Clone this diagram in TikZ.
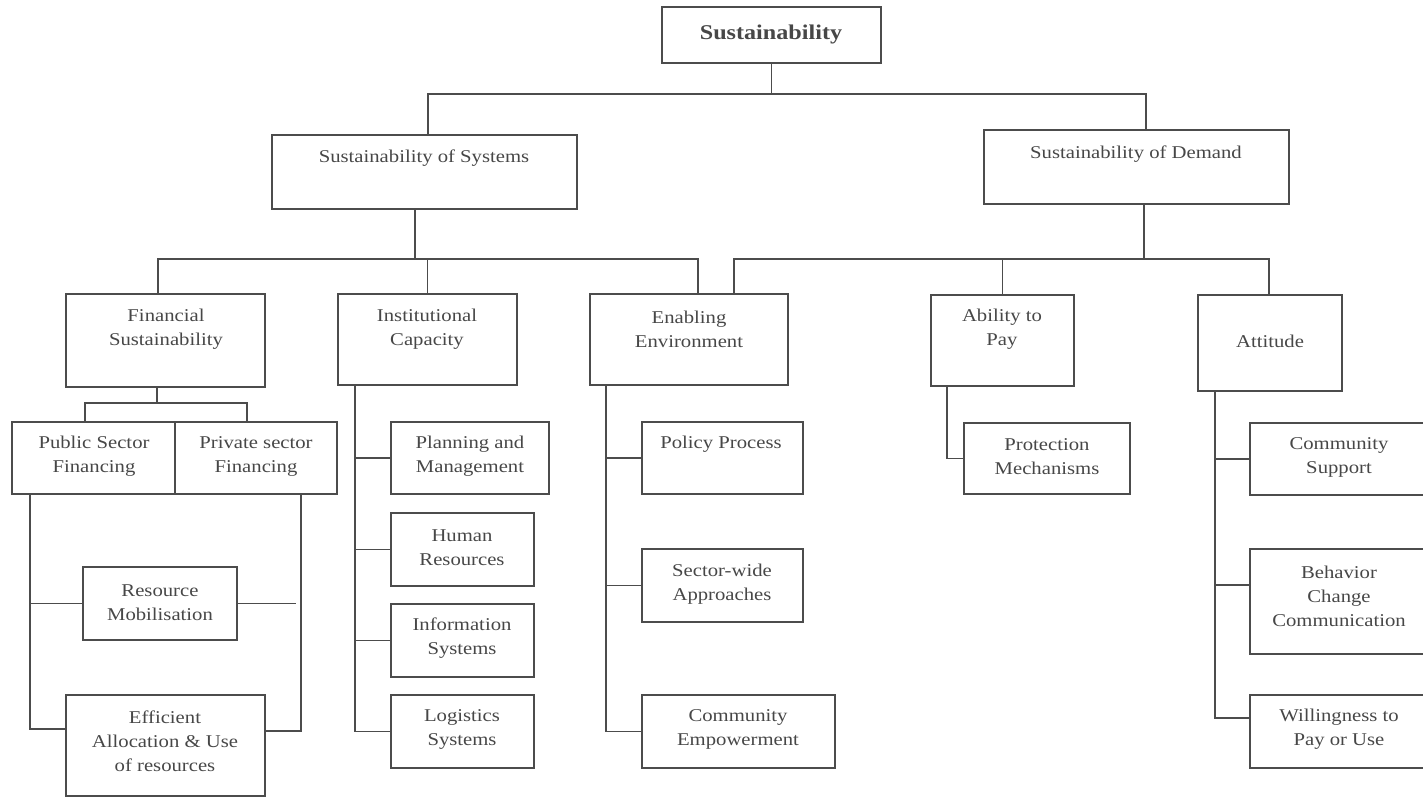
\documentclass[tikz,border=0pt]{standalone}
\usepackage{fontspec}
\setmainfont{Liberation Serif}[FakeStretch=1.15]
\definecolor{linec}{gray}{0.30}
\definecolor{textc}{gray}{0.28}
\begin{document}
\begin{tikzpicture}[x=1pt,y=-1pt,
  box/.style={draw=linec, line width=1.25pt, anchor=north west, inner sep=0pt, outer sep=0pt},
  txt/.style={text=textc, align=center, inner sep=0pt, yshift=-1.5pt, font=\fontsize{18}{24}\selectfont},
  conn/.style={draw=linec, line width=1.25pt}]
\useasboundingbox (0,0) rectangle (1423,798);
\clip (0,0) rectangle (1423,798);
% ---------- boxes ----------
\node[box, minimum width=219pt, minimum height=56pt] (top) at (662,7) {};
\node[box, minimum width=305pt, minimum height=74pt] (sys) at (272,135) {};
\node[box, minimum width=305pt, minimum height=74pt] (dem) at (984,130) {};
\node[box, minimum width=199pt, minimum height=93pt] (fin) at (66,294) {};
\node[box, minimum width=179pt, minimum height=91pt] (inst) at (338,294) {};
\node[box, minimum width=198pt, minimum height=91pt] (enab) at (590,294) {};
\node[box, minimum width=143pt, minimum height=91pt] (abil) at (931,295) {};
\node[box, minimum width=144pt, minimum height=96pt] (att) at (1198,295) {};
\node[box, minimum width=163pt, minimum height=72pt] (pub) at (12,422) {};
\node[box, minimum width=162pt, minimum height=72pt] (priv) at (175,422) {};
\node[box, minimum width=154pt, minimum height=73pt] (res) at (83,567) {};
\node[box, minimum width=199pt, minimum height=101pt] (eff) at (66,695) {};
\node[box, minimum width=158pt, minimum height=72pt] (plan) at (391,422) {};
\node[box, minimum width=143pt, minimum height=73pt] (hum) at (391,513) {};
\node[box, minimum width=143pt, minimum height=73pt] (info) at (391,604) {};
\node[box, minimum width=143pt, minimum height=73pt] (log) at (391,695) {};
\node[box, minimum width=161pt, minimum height=72pt] (pol) at (642,422) {};
\node[box, minimum width=161pt, minimum height=73pt] (sec) at (642,549) {};
\node[box, minimum width=193pt, minimum height=73pt] (come) at (642,695) {};
\node[box, minimum width=166pt, minimum height=71pt] (prot) at (964,423) {};
\node[box, minimum width=180pt, minimum height=72pt] (csup) at (1250,423) {};
\node[box, minimum width=180pt, minimum height=105pt] (bcc) at (1250,549) {};
\node[box, minimum width=180pt, minimum height=73pt] (wil) at (1250,695) {};
% ---------- texts ----------
\node[txt, font=\fontsize{21}{25}\selectfont\bfseries] (top-t) at (771,33) {Sustainability};
\node[txt] (sys-t) at (424,157) {Sustainability of Systems};
\node[txt] (dem-t) at (1136,153) {Sustainability of Demand};
\node[txt] (fin-t) at (166,328) {Financial\\Sustainability};
\node[txt] (inst-t) at (427,328) {Institutional\\Capacity};
\node[txt] (enab-t) at (689,328) {Enabling\\Environment};
\node[txt] (abil-t) at (1002,328) {Ability to\\Pay};
\node[txt] (att-t) at (1270,340) {Attitude};
\node[txt] (pub-t) at (94,455) {Public Sector\\Financing};
\node[txt] (priv-t) at (256,455) {Private sector\\Financing};
\node[txt] (res-t) at (160,601) {Resource\\Mobilisation};
\node[txt] (eff-t) at (165,740) {Efficient\\Allocation \& Use\\of resources};
\node[txt] (plan-t) at (470,455) {Planning and\\Management};
\node[txt] (hum-t) at (462,546) {Human\\Resources};
\node[txt] (info-t) at (462,637) {Information\\Systems};
\node[txt] (log-t) at (462,728) {Logistics\\Systems};
\node[txt] (pol-t) at (721,443) {Policy Process};
\node[txt] (sec-t) at (722,583) {Sector-wide\\Approaches};
\node[txt] (come-t) at (738,728) {Community\\Empowerment};
\node[txt] (prot-t) at (1047,455) {Protection\\Mechanisms};
\node[txt] (csup-t) at (1339,456) {Community\\Support};
\node[txt] (bcc-t) at (1339,595) {Behavior\\Change\\Communication};
\node[txt] (wil-t) at (1339,728) {Willingness to\\Pay or Use};
% ---------- connectors ----------
\coordinate (busL) at (428,94);
\coordinate (busR) at (1146,94);
\draw[conn] (top.south) -- (top.south |- busL);
\draw[conn] (busL |- sys.north) -- (busL) -- (busR) -- (busR |- dem.north);
% systems
\coordinate (sysd) at (415,259);
\coordinate (b2L) at (158,259);
\coordinate (b2R) at (698,259);
\draw[conn] (sysd |- sys.south) -- (sysd);
\draw[conn] (b2L |- fin.north) -- (b2L) -- (b2R) -- (b2R |- enab.north);
\draw[conn] (inst.north) -- (inst.north |- b2L);
% demand
\coordinate (demd) at (1144,259);
\coordinate (b3L) at (734,259);
\coordinate (b3R) at (1269,259);
\draw[conn] (demd |- dem.south) -- (demd);
\draw[conn] (b3L |- enab.north) -- (b3L) -- (b3R) -- (b3R |- att.north);
\draw[conn] (abil.north) -- (abil.north |- b3L);
% financial
\coordinate (fd) at (157,403);
\coordinate (b4L) at (85,403);
\coordinate (b4R) at (247,403);
\draw[conn] (fd |- fin.south) -- (fd);
\draw[conn] (b4L |- pub.north) -- (b4L) -- (b4R) -- (b4R |- priv.north);
\coordinate (pl) at (30,729);
\draw[conn] (pub.south -| pl) -- (pl) -- (pl -| eff.west);
\draw[conn] (pl |- res.west) -- (res.west);
\coordinate (pr) at (301,731);
\coordinate (rre) at (296,600);
\draw[conn] (priv.south -| pr) -- (pr) -- (pr -| eff.east);
\draw[conn] (res.east) -- (res.east -| rre);
% institutional
\coordinate (iv) at (355,0);
\draw[conn] (inst.south -| iv) -- (iv |- log.west) -- (log.west);
\draw[conn] (iv |- plan.west) -- (plan.west);
\draw[conn] (iv |- hum.west) -- (hum.west);
\draw[conn] (iv |- info.west) -- (info.west);
% enabling
\coordinate (ev) at (606,0);
\draw[conn] (enab.south -| ev) -- (ev |- come.west) -- (come.west);
\draw[conn] (ev |- pol.west) -- (pol.west);
\draw[conn] (ev |- sec.west) -- (sec.west);
% ability
\coordinate (av) at (947,0);
\draw[conn] (abil.south -| av) -- (av |- prot.west) -- (prot.west);
% attitude
\coordinate (t2) at (1215,585);
\coordinate (t3) at (1215,718);
\draw[conn] (att.south -| t3) -- (t3) -- (t3 -| wil.west);
\draw[conn] (t3 |- csup.west) -- (csup.west);
\draw[conn] (t2) -- (t2 -| bcc.west);
\end{tikzpicture}
\end{document}
